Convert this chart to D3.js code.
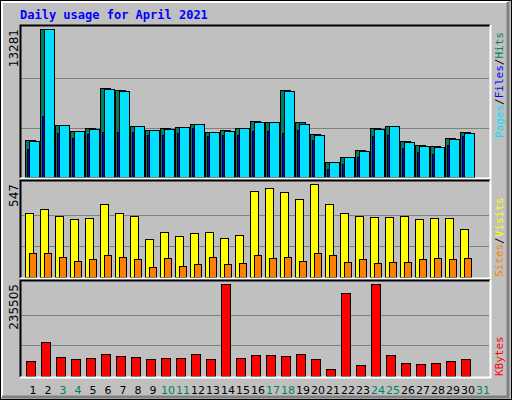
<!DOCTYPE html>
<html><head><meta charset="utf-8">
<script src="https://cdn.jsdelivr.net/npm/d3@7"></script>
<style>body{margin:0;background:#fff}</style>
</head><body>
<div id="chart"></div>
<script>
// values
var days = d3.range(1, 32);
var weekends = [3, 4, 10, 11, 17, 18, 24, 25, 31];
var hits = [3320,13281,4660,4130,4400,7980,7800,4570,4220,4400,4490,4750,4040,4220,4400,5020,4930,7800,4930,3860,1350,1790,2420,4400,4570,3230,2870,2780,3500,4040];
var files = [3230,13281,4660,4130,4310,7890,7710,4570,4220,4310,4490,4750,4040,4130,4400,4930,4930,7710,4750,3770,1350,1790,2330,4310,4570,3140,2780,2690,3410,3950];
var pages = [2510,5470,3950,3500,3860,4040,4040,4040,3770,3770,3950,4400,3680,3770,3770,4130,4130,3950,4220,3320,720,1170,1790,3680,3770,2600,2240,2060,2870,3680];
var visits = [375,399,357,340,346,429,375,357,221,263,239,257,263,227,245,506,523,500,458,547,429,375,357,352,352,357,340,346,346,280];
var sites = [144,144,120,97,103,132,115,103,61,109,67,79,120,79,85,132,109,120,97,144,132,91,103,85,91,91,103,109,103,109];
var kbytes = [39540,85950,49850,44690,47270,57590,52430,49850,44690,47270,47270,57590,44690,235505,47270,55010,55010,52430,57590,44690,18910,212300,29220,235505,55010,34380,31800,34380,39540,44690];

var W = 512, H = 400;
var svg = d3.select('#chart').append('svg').attr('width', W).attr('height', H)
    .style('font-family', 'DejaVu Sans');

// frame
svg.append('rect').attr('x', 0.5).attr('y', 0.5).attr('width', W - 1).attr('height', H - 1)
    .attr('fill', '#c0c0c0').attr('stroke', '#000');
svg.append('path').attr('d', 'M2,397V2H508').attr('fill', 'none').attr('stroke', '#fff').attr('stroke-width', 2);
svg.append('path').attr('d', 'M508,2V397H2').attr('fill', 'none').attr('stroke', '#808080').attr('stroke-width', 3);

svg.append('text').attr('x', 20).attr('y', 19).text('Daily usage for April 2021')
    .attr('fill', '#0000ff').attr('font-family', 'DejaVu Sans Mono').attr('font-weight', 'bold').attr('font-size', 12);

var x = d3.scaleLinear().domain([1, 31]).range([33, 483]);

function panel(top, bottom, maxTop, maxVal, label){
    svg.append('rect').attr('x', 20).attr('y', top).attr('width', 470).attr('height', bottom - top)
        .attr('fill', '#c0c0c0');
    var y = d3.scaleLinear().domain([0, maxVal]).range([bottom - 1, maxTop]);
    [1, 2].forEach(function(k){
        var gy = Math.round(bottom - 1 - k * (bottom - 1 - maxTop) / 3) + 0.5;
        svg.append('line').attr('x1', 21).attr('x2', 489).attr('y1', gy).attr('y2', gy)
            .attr('stroke', '#808080');
    });
    svg.append('text').attr('transform', 'translate(18,' + maxTop + ') rotate(-90)')
        .attr('text-anchor', 'end').attr('font-size', 12).text(label);
    return y;
}

function frame(top, bottom){
    svg.append('path').attr('d', 'M20.5,' + bottom + 'V' + (top + 0.5) + 'H490')
        .attr('fill', 'none').attr('stroke', '#000').attr('stroke-width', 2);
    svg.append('path').attr('d', 'M490.5,' + top + 'V' + (bottom + 0.5) + 'H20')
        .attr('fill', 'none').attr('stroke', '#fff').attr('stroke-width', 2);
}

function bars(data, y, dx, w, fill){
    svg.append('g').selectAll('rect').data(data).enter().append('rect')
        .attr('x', function(d, i){ return Math.round(x(i + 1)) + dx + 0.5; })
        .attr('y', function(d){ return Math.round(y(d)) + 0.5; })
        .attr('width', w)
        .attr('height', function(d){ return y.range()[0] - Math.round(y(d)); })
        .attr('fill', fill).attr('stroke', '#000');
}

// top panel
var y1 = panel(25, 178, 29, 13281, '13281');
bars(hits, y1, -8, 10, '#008060');
bars(files, y1, -4, 10, '#00e0ff');
bars(pages, y1, -6, 2, '#0000ff');
frame(25, 178);

// middle panel
var y2 = panel(180, 278, 184, 547, '547');
bars(visits, y2, -8, 8, '#ffff00');
bars(sites, y2, -4, 7, '#ff8000');
frame(180, 278);

// bottom panel
var y3 = panel(280, 377, 284, 235505, '235505');
bars(kbytes, y3, -7, 9, '#ff0000');
frame(280, 377);

// day labels
svg.append('g').selectAll('text').data(days).enter().append('text')
    .attr('x', function(d){ return x(d); }).attr('y', 394)
    .attr('text-anchor', 'middle').attr('font-size', 11)
    .attr('fill', function(d){ return weekends.indexOf(d) >= 0 ? '#008060' : '#000'; })
    .text(function(d){ return d; });

// right side legends
function legend(yBottom, parts){
    var t = svg.append('text').attr('transform', 'translate(503,' + yBottom + ') rotate(-90)')
        .attr('font-family', 'DejaVu Sans Mono').attr('font-size', 11);
    parts.forEach(function(p){
        t.append('tspan').attr('fill', p[1]).text(p[0]);
    });
}
legend(138, [['Pages', '#00e0ff'], ['/', '#000'], ['Files', '#0000ff'], ['/', '#000'], ['Hits', '#008060']]);
legend(277, [['Sites', '#ff8000'], ['/', '#000'], ['Visits', '#ffff00']]);
legend(376, [['KBytes', '#ff0000']]);
</script>
</body></html>
